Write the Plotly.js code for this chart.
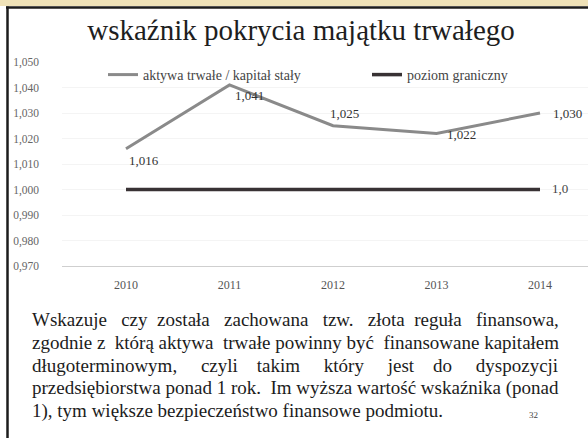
<!DOCTYPE html>
<html>
<head>
<meta charset="utf-8">
<script src="https://cdn.plot.ly/plotly-3.0.1.min.js"></script>
<style>
  html, body { margin: 0; padding: 0; background: #ffffff; }
  #chart { width: 588px; height: 438px; }
</style>
</head>
<body>
<div id="chart"></div>
<script>
// ---- data ----
const categories = ['2010', '2011', '2012', '2013', '2014'];
const coverageValues = [1.016, 1.041, 1.025, 1.022, 1.030];
const limitValues = [1.0, 1.0, 1.0, 1.0, 1.0];
const coverageLabels = ['1,016', '1,041', '1,025', '1,022', '1,030'];
const limitLabel = '1,0';
const seriesNames = ['aktywa trwałe / kapitał stały', 'poziom graniczny'];
const titleText = 'wskaźnik pokrycia majątku trwałego';
const paragraphLines = [
  'Wskazuje czy została zachowana tzw. złota reguła finansowa,',
  'zgodnie z którą aktywa trwałe powinny być finansowane kapitałem',
  'długoterminowym, czyli takim który jest do dyspozycji',
  'przedsiębiorstwa ponad 1 rok. Im wyższa wartość wskaźnika (ponad',
  '1), tym większe bezpieczeństwo finansowe podmiotu.'
];
const pageNumber = '32';

// ---- layout helpers (pixels -> paper) ----
const W = 588, H = 438;
const M = { l: 62, r: 0, t: 62, b: 172 };
const PW = W - M.l - M.r, PH = H - M.t - M.b;
const px2x = p => (p - M.l) / PW;
const py2y = p => (H - M.b - p) / PH;

// label offsets (style only)
const labelShift = [
  { dx: 18, dy: -12 },
  { dx: 20, dy: -11 },
  { dx: 11, dy: 12 },
  { dx: 25, dy: -1 },
  { dx: 27, dy: 0 }
];

const serif = '"Liberation Serif", "Times New Roman", Times, serif';

// ---- justify paragraph using nbsp padding ----
const PARA_SIZE = 19;
const PARA_LEFT = 30, PARA_RIGHT = 555;
const PARA_TOP = 319.5, PARA_STEP = 22.75;
const cv = document.createElement('canvas').getContext('2d');
cv.font = PARA_SIZE + 'px "Liberation Serif"';
const NBSP = '\u00a0';
const nbspW = cv.measureText(NBSP).width || PARA_SIZE * 0.25;
function justify(line, target) {
  const words = line.split(' ');
  const natural = cv.measureText(line).width;
  const gaps = words.length - 1;
  if (gaps < 1) return line;
  const total = Math.max(0, Math.round((target - natural) / nbspW));
  let out = words[0];
  for (let i = 1; i < words.length; i++) {
    const k = Math.round(total * i / gaps) - Math.round(total * (i - 1) / gaps);
    out += ' ' + NBSP.repeat(k) + words[i];
  }
  return out;
}

// ---- traces ----
const traces = [
  {
    type: 'scatter', mode: 'lines', name: seriesNames[0],
    x: categories, y: coverageValues,
    line: { color: '#8a8a8a', width: 3 },
    legend: 'legend', hoverinfo: 'skip'
  },
  {
    type: 'scatter', mode: 'lines', name: seriesNames[1],
    x: categories, y: limitValues,
    line: { color: '#383234', width: 3.5 },
    legend: 'legend2', hoverinfo: 'skip'
  }
];

// ---- annotations ----
const annotations = [];
categories.forEach((c, i) => {
  annotations.push({
    x: i, y: coverageValues[i], xref: 'x', yref: 'y',
    text: coverageLabels[i], showarrow: false,
    xanchor: 'center', yanchor: 'middle',
    xshift: labelShift[i].dx, yshift: labelShift[i].dy,
    font: { family: serif, size: 13, color: '#333333' }
  });
});
annotations.push({
  x: categories.length - 1, y: limitValues[limitValues.length - 1],
  xref: 'x', yref: 'y', text: limitLabel, showarrow: false,
  xanchor: 'left', yanchor: 'middle', xshift: 10, yshift: 1,
  font: { family: serif, size: 13, color: '#444444' }
});
paragraphLines.forEach((ln, i) => {
  const txt = i < paragraphLines.length - 1 ? justify(ln, PARA_RIGHT - PARA_LEFT) : ln;
  annotations.push({
    x: px2x(PARA_LEFT), y: py2y(PARA_TOP + i * PARA_STEP), xref: 'paper', yref: 'paper',
    text: txt, showarrow: false, align: 'left',
    xanchor: 'left', yanchor: 'middle',
    font: { family: serif, size: PARA_SIZE, color: '#1c1c1c' }
  });
});
annotations.push({
  x: px2x(533), y: py2y(415), xref: 'paper', yref: 'paper',
  text: pageNumber, showarrow: false, xanchor: 'center', yanchor: 'middle',
  font: { family: serif, size: 9, color: '#444444' }
});

// ---- frame shapes ----
const shapes = [
  { type: 'rect', xref: 'paper', yref: 'paper', x0: px2x(0), x1: px2x(W), y0: py2y(0), y1: py2y(6),
    fillcolor: '#efe2b8', line: { width: 0 }, layer: 'below' },
  { type: 'line', xref: 'paper', yref: 'paper', x0: px2x(6), x1: px2x(W), y0: py2y(7.5), y1: py2y(7.5),
    line: { color: '#1c1c1c', width: 2.5 } },
  { type: 'line', xref: 'paper', yref: 'paper', x0: px2x(7.5), x1: px2x(7.5), y0: py2y(6.5), y1: py2y(H),
    line: { color: '#1c1c1c', width: 2.5 } }
];

const legendFont = { family: serif, size: 14, color: '#444444' };

const layout = {
  width: W, height: H,
  margin: M,
  font: { family: serif, color: '#444444' },
  paper_bgcolor: '#ffffff', plot_bgcolor: '#ffffff',
  separators: ', ',
  title: {
    text: titleText, xref: 'container', yref: 'container',
    x: 301 / W, xanchor: 'center', y: 1 - 30 / H, yanchor: 'middle',
    font: { family: serif, size: 29, color: '#1e1e1e' }
  },
  showlegend: true,
  legend: {
    orientation: 'h', x: px2x(103), xanchor: 'left', y: py2y(75), yanchor: 'middle',
    font: legendFont, bgcolor: 'rgba(0,0,0,0)'
  },
  legend2: {
    orientation: 'h', x: px2x(367), xanchor: 'left', y: py2y(75), yanchor: 'middle',
    font: legendFont, bgcolor: 'rgba(0,0,0,0)'
  },
  xaxis: {
    type: 'category', range: [(M.l - 126) / 103.5, (W - 126) / 103.5],
    showgrid: false, zeroline: false,
    showline: true, linecolor: '#cfcfcf', linewidth: 1,
    ticks: '', ticklabelstandoff: 8,
    tickfont: { family: serif, size: 12, color: '#555555' }
  },
  yaxis: {
    range: [0.970, 1.050], dtick: 0.01, tick0: 0.97, tickformat: '.3f',
    showgrid: true, gridcolor: '#f4f4f4', zeroline: false, showline: false,
    ticks: '', ticklabelstandoff: 22,
    tickfont: { family: serif, size: 11.5, color: '#666666' }
  },
  annotations: annotations,
  shapes: shapes
};

Plotly.newPlot('chart', traces, layout, { displayModeBar: false, staticPlot: true });
</script>
</body>
</html>
